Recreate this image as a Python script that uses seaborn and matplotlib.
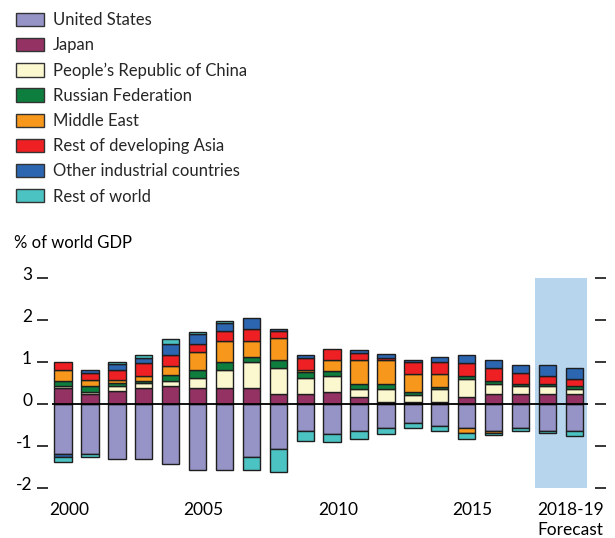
import numpy as np
import pandas as pd
import matplotlib
matplotlib.use("Agg")
import matplotlib.pyplot as plt
from matplotlib.patches import Patch
from matplotlib.transforms import ScaledTranslation
import seaborn as sns

years = ["2000", "2001", "2002", "2003", "2004", "2005", "2006", "2007", "2008", "2009",
         "2010", "2011", "2012", "2013", "2014", "2015", "2016", "2017", "2018", "2019"]

series_names = ["United States", "Japan", "People\u2019s Republic of China", "Russian Federation",
                "Middle East", "Rest of developing Asia", "Other industrial countries", "Rest of world"]

united_states = [-1.19, -1.18, -1.31, -1.31, -1.43, -1.56, -1.56, -1.25, -1.06, -0.63,
                 -0.70, -0.63, -0.57, -0.44, -0.51, -0.57, -0.63, -0.57, -0.63, -0.63]
japan = [0.38, 0.25, 0.32, 0.38, 0.43, 0.38, 0.38, 0.38, 0.24, 0.24,
         0.30, 0.18, 0.06, 0.06, 0.06, 0.17, 0.24, 0.24, 0.24, 0.24]
china = [0.05, 0.05, 0.11, 0.13, 0.13, 0.24, 0.43, 0.62, 0.63, 0.38,
         0.37, 0.18, 0.30, 0.17, 0.30, 0.44, 0.25, 0.19, 0.19, 0.13]
russia = [0.13, 0.13, 0.08, 0.05, 0.13, 0.19, 0.19, 0.13, 0.19, 0.15,
          0.13, 0.13, 0.13, 0.06, 0.06, 0.06, 0.06, 0.06, 0.06, 0.06]
middle_east = [0.25, 0.14, 0.06, 0.12, 0.23, 0.44, 0.50, 0.37, 0.51, 0.04,
               0.25, 0.56, 0.56, 0.44, 0.31, -0.12, -0.06, 0.0, 0.0, 0.0]
rest_dev_asia = [0.19, 0.17, 0.24, 0.31, 0.26, 0.18, 0.24, 0.30, 0.17, 0.30,
                 0.26, 0.18, 0.06, 0.27, 0.27, 0.32, 0.32, 0.25, 0.18, 0.18]
other_industrial = [-0.055, 0.07, 0.16, 0.12, 0.25, 0.25, 0.20, 0.26, 0.06, 0.07,
                    0.0, 0.07, 0.08, 0.06, 0.13, 0.19, 0.19, 0.20, 0.26, 0.26]
rest_of_world = [-0.135, -0.065, 0.03, 0.07, 0.13, 0.05, 0.05, -0.32, -0.56, -0.25,
                 -0.19, -0.20, -0.13, -0.13, -0.13, -0.13, -0.05, -0.06, -0.06, -0.13]

colors = ["#9693C7", "#943264", "#FBF8D0", "#0E7E3E", "#F7981D", "#EE2024", "#2C66B0", "#4BC3C3"]

x_tick_labels = ["2000", "2005", "2010", "2015", "2018-19\nForecast"]
y_ticks = [-2, -1, 0, 1, 2, 3]

sns.set_theme(style="white")
plt.rcParams["font.family"] = ["Lato", "DejaVu Sans"]

df = pd.DataFrame({n: v for n, v in zip(series_names,
                   [united_states, japan, china, russia, middle_east, rest_dev_asia,
                    other_industrial, rest_of_world])}, index=years)

fig = plt.figure(figsize=(6.15, 5.38), dpi=100)
ax = fig.add_axes([48 / 615, 1 - 488.3 / 538, (595 - 48) / 615, (488.3 - 278.3) / 538])

xpos = np.arange(len(years))
ax.axvspan(17.55, 19.47, color="#B7D6EE", zorder=0, lw=0)

pos_bottom = np.zeros(len(years))
neg_bottom = np.zeros(len(years))
for name, col in zip(series_names, colors):
    vals = df[name].to_numpy()
    pos = np.where(vals > 0, vals, 0.0)
    neg = np.where(vals < 0, vals, 0.0)
    m = pos > 0
    if m.any():
        ax.bar(xpos[m], pos[m], bottom=pos_bottom[m], width=0.645, color=col,
               edgecolor="#1e1e1e", linewidth=1.0, zorder=2)
    m = neg < 0
    if m.any():
        ax.bar(xpos[m], neg[m], bottom=neg_bottom[m], width=0.645, color=col,
               edgecolor="#1e1e1e", linewidth=1.0, zorder=2)
    pos_bottom += pos
    neg_bottom += neg

ax.hlines(0, -0.42, 19.5, color="black", lw=1.3, zorder=3)

ax.set_xlim(-0.558, 19.77)
ax.set_ylim(-2, 3)
for s in ax.spines.values():
    s.set_visible(False)

ax.set_yticks(y_ticks)
ax.set_yticklabels([str(t) for t in y_ticks], fontsize=12.5)
ax.tick_params(axis="y", left=True, right=True, direction="out", length=8, width=1.1,
               color="black", pad=3.5, labelcolor="black")
off = ScaledTranslation(0, 5 / 100, fig.dpi_scale_trans)
for lab in ax.get_yticklabels():
    lab.set_transform(lab.get_transform() + off)

ax.set_xticks([0.22, 5.22, 10.22, 15.22, 18.85])
ax.set_xticklabels(x_tick_labels, fontsize=12.5, linespacing=1.3)
ax.tick_params(axis="x", bottom=False, pad=4, labelcolor="black")

fig.text(14 / 615, 1 - 243 / 538, "% of world GDP", fontsize=12, va="center", ha="left", color="black")

handles = [Patch(facecolor=c, edgecolor="#333333", linewidth=1.0) for c in colors]
fig.legend(handles, series_names, loc="upper left", bbox_to_anchor=(16 / 615, 1 - 12 / 538),
           frameon=False, fontsize=12, handlelength=1.7, handleheight=0.85, handletextpad=0.5,
           labelspacing=0.55, borderaxespad=0, borderpad=0)

fig.savefig("out.png", dpi=100, facecolor="white")
